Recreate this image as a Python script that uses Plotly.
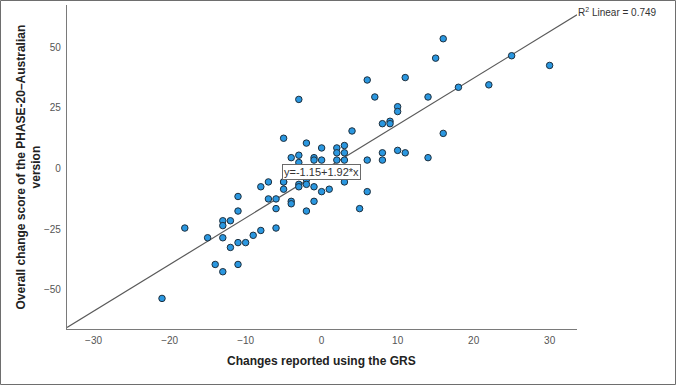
import plotly.graph_objects as go

# Data
grs = [-21, -18, -15, -14, -13, -13, -13, -13, -12, -12,
       -11, -11, -11, -11, -10, -9, -8, -8, -7, -7,
       -6, -6, -6, -5, -5, -5, -5, -4, -4, -4,
       -3, -3, -3, -3, -3, -2, -2, -2, -2, -1,
       -1, -1, -1, 0, 0, 0, 1, 2, 2, 2,
       3, 3, 3, 3, 4, 5, 6, 6, 6, 7,
       8, 8, 8, 9, 9, 10, 10, 10, 11, 11,
       14, 14, 15, 16, 16, 18, 22, 25, 30]
phase = [-53.5, -24.5, -28.5, -39.5, -21.5, -23.5, -28.5, -42.5, -21.5, -32.5,
         -11.5, -17.5, -30.5, -39.5, -30.5, -27.5, -7.5, -25.5, -5.5, -12.5,
         -12.5, -16.5, -24.5, 12.5, -5.5, -8.5, -5.5, 4.5, -13.5, -14.5,
         28.5, 5.5, 2.5, -6.5, -7.5, 10.5, -4.5, -6.5, -17.5, 4.5,
         3.5, -7.5, -13.5, 8.5, 3.5, -9.5, -8.5, 8.5, 6.5, 3.5,
         9.5, 6.5, 3.5, -5.5, 15.5, -16.5, 36.5, 3.5, -9.5, 29.5,
         18.5, 6.5, 3.5, 19.5, 18.5, 25.5, 23.5, 7.5, 37.5, 6.5,
         29.5, 4.5, 45.5, 53.5, 14.5, 33.5, 34.5, 46.5, 42.5]
intercept = -1.15
slope = 1.92
r2 = 0.749
x_ticks = [-30, -20, -10, 0, 10, 20, 30]
y_ticks = [-50, -25, 0, 25, 50]

X_RANGE = [-33.5, 33.6]
Y_RANGE = [-66.1, 67.4]

W, H = 676, 385
ML, MR, MT, MB = 67, 99, 5, 56
PW, PH = W - ML - MR, H - MT - MB

fig = go.Figure()

fit_x = X_RANGE
fit_y = [intercept + slope * v for v in fit_x]
fig.add_trace(go.Scatter(x=fit_x, y=fit_y, mode="lines",
                         line=dict(color="#5a5a5a", width=1.2),
                         hoverinfo="skip", showlegend=False))

fig.add_trace(go.Scatter(x=grs, y=phase, mode="markers",
                         marker=dict(size=6.5, color="#2a97e0",
                                     line=dict(color="#1e2f3d", width=1)),
                         showlegend=False))

tick_font = dict(family="Liberation Sans Narrow, Arial Narrow, Liberation Sans, Arial", size=10, color="#555555")

fig.update_xaxes(range=X_RANGE, tickvals=x_ticks, ticks="", showgrid=False,
                 zeroline=False, showline=True, linecolor="#7a7a7a", linewidth=1.3,
                 tickfont=tick_font, ticklabelstandoff=2)
fig.update_yaxes(range=Y_RANGE, tickvals=y_ticks, ticks="", showgrid=False,
                 zeroline=False, showline=True, linecolor="#7a7a7a", linewidth=1.3,
                 tickfont=tick_font, ticklabelstandoff=3)

def px_x(p):
    return (p - ML) / PW

def px_y(p):
    return (H - MB - p) / PH

title_font = dict(family="Liberation Sans, Arial", size=12, color="#222222")

annotations = [
    dict(text="<b>Changes reported using the GRS</b>", xref="paper", yref="paper",
         x=px_x(321), y=px_y(361), xanchor="center", yanchor="middle",
         showarrow=False, font=title_font),
    dict(text="<b>Overall change score of the PHASE-20\u2013Australian<br>version</b>",
         xref="paper", yref="paper", x=px_x(28.5), y=px_y(167), textangle=-90,
         xanchor="center", yanchor="middle", showarrow=False, font=title_font),
    dict(text=f"y={intercept}+{slope}*x", xref="paper", yref="paper",
         x=px_x(321), y=px_y(172), xanchor="center", yanchor="middle",
         showarrow=False, bgcolor="white", bordercolor="#6a6a6a", borderwidth=1,
         borderpad=1,
         font=dict(family="Liberation Sans Narrow, Arial Narrow, Liberation Sans, Arial", size=11, color="#333333")),
    dict(text=f"R<sup>2</sup> Linear = {r2}", xref="paper", yref="paper",
         x=px_x(576), y=px_y(12), xanchor="left", yanchor="middle",
         showarrow=False,
         font=dict(family="Liberation Sans Narrow, Arial Narrow, Liberation Sans, Arial", size=10, color="#333333")),
]

fig.update_layout(
    width=W, height=H,
    margin=dict(l=ML, r=MR, t=MT, b=MB, pad=0),
    paper_bgcolor="white", plot_bgcolor="white",
    annotations=annotations,
    shapes=[dict(type="rect", xref="paper", yref="paper",
                 x0=px_x(0.5), x1=px_x(W - 0.5), y0=px_y(H - 0.5), y1=px_y(0.5),
                 line=dict(color="#6e6e6e", width=1), layer="below")],
)

fig.write_html("out.html")
